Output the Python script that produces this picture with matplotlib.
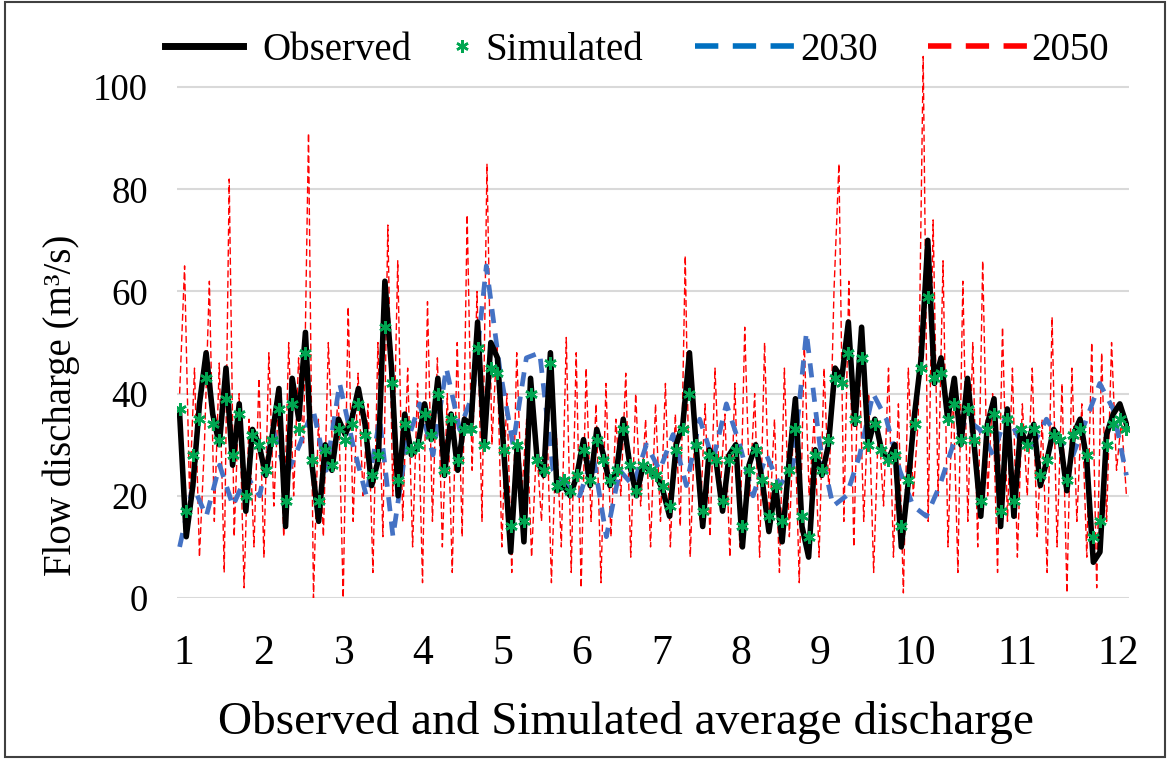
import numpy as np
import matplotlib
matplotlib.use("Agg")
import matplotlib.pyplot as plt
from matplotlib.lines import Line2D
from matplotlib.patches import Rectangle

plt.rcParams['font.family'] = ['Liberation Serif', 'DejaVu Serif']

# Daily flow discharge (m3/s), sampled ~12 times per month
observed = [36, 12, 22, 38, 48, 36, 30, 45, 26, 38, 17, 33,
            30, 24, 32, 41, 14, 43, 35, 52, 26, 15, 30, 25,
            35, 32, 35, 41, 34, 22, 27, 62, 45, 20, 36, 28,
            30, 38, 31, 43, 24, 36, 25, 35, 34, 54, 30, 50,
            47, 28, 9, 30, 11, 43, 27, 24, 48, 21, 22, 20,
            24, 31, 22, 33, 28, 22, 25, 35, 26, 20, 26, 25,
            24, 21, 16, 30, 34, 48, 30, 14, 29, 27, 17, 28,
            30, 10, 26, 30, 23, 13, 22, 11, 26, 39, 14, 8,
            29, 24, 30, 45, 43, 54, 34, 53, 30, 35, 29, 27,
            30, 10, 22, 36, 47, 70, 42, 47, 35, 43, 30, 43,
            30, 16, 34, 39, 14, 37, 16, 33, 30, 34, 22, 27,
            33, 31, 21, 32, 35, 27, 7, 9, 32, 36, 38, 34]

simulated = [37, 17, 28, 35, 43, 34, 31, 39, 28, 36, 20, 32,
             30, 25, 31, 37, 19, 38, 33, 48, 27, 19, 29, 26,
             33, 31, 34, 38, 32, 24, 28, 53, 42, 23, 34, 29,
             30, 36, 32, 40, 25, 35, 27, 33, 33, 49, 30, 45,
             44, 29, 14, 30, 15, 40, 27, 25, 46, 22, 23, 21,
             24, 29, 23, 31, 27, 23, 25, 33, 26, 21, 26, 25,
             24, 22, 18, 29, 33, 40, 30, 17, 28, 27, 19, 27,
             29, 14, 25, 29, 23, 16, 22, 15, 25, 33, 16, 12,
             28, 25, 31, 43, 42, 48, 35, 47, 30, 34, 29, 27,
             28, 14, 23, 34, 45, 59, 43, 44, 35, 38, 31, 37,
             31, 19, 33, 36, 17, 35, 19, 33, 30, 33, 24, 27,
             32, 31, 23, 32, 33, 28, 12, 15, 30, 34, 35, 33]

# Projected discharge, ~6 samples per month
proj_2030 = [10, 22, 16, 26, 18, 24,
             20, 33, 24, 30, 37, 25,
             42, 30, 20, 35, 12, 30,
             38, 28, 45, 33, 40, 65,
             45, 30, 47, 48, 25, 22,
             20, 28, 12, 25, 22, 30,
             25, 32, 22, 35, 27, 38,
             30, 20, 28, 22, 26, 52,
             30, 18, 20, 28, 40, 35,
             25, 18, 16, 22, 30, 35,
             33, 28, 36, 31, 30, 35,
             31, 28, 35, 42, 37, 24]

# Projected discharge, ~16 samples per month
proj_2050 = [40, 65, 20, 45, 8, 30, 62, 15, 46, 5, 82, 12, 40, 2, 35, 10,
             43, 8, 48, 18, 40, 12, 50, 20, 47, 30, 91, 0, 35, 12, 50, 25,
             40, 0, 57, 15, 44, 20, 38, 5, 50, 12, 73, 20, 66, 15, 45, 10,
             42, 3, 58, 15, 47, 10, 40, 5, 50, 12, 75, 25, 60, 15, 85, 30,
             50, 10, 40, 5, 48, 20, 35, 8, 30, 15, 38, 3, 32, 10, 51, 5,
             48, 2, 45, 15, 38, 3, 42, 12, 35, 20, 44, 8, 40, 18, 35, 10,
             38, 15, 42, 10, 36, 14, 67, 8, 35, 15, 38, 12, 45, 20, 36, 8,
             42, 10, 53, 20, 40, 8, 50, 15, 35, 5, 45, 12, 38, 3, 50, 20,
             35, 8, 45, 20, 60, 85, 15, 62, 10, 50, 15, 40, 5, 35, 18, 45,
             8, 38, 1, 45, 20, 35, 106, 15, 74, 20, 66, 10, 42, 5, 62, 15,
             50, 10, 66, 20, 40, 5, 53, 15, 45, 8, 38, 20, 45, 12, 35, 5,
             55, 10, 42, 1, 45, 15, 38, 8, 50, 2, 48, 15, 50, 25, 35, 20]

month_labels = ['1', '2', '3', '4', '5', '6', '7', '8', '9', '10', '11', '12']
label_days = [2.7, 33, 64, 94.3, 125, 155, 186, 216, 246.5, 283, 322, 361]

day_obs = np.linspace(1, 364, len(observed))
day_30 = np.linspace(1, 364, len(proj_2030))
day_50 = np.linspace(1, 364, len(proj_2050))

BLUE = '#4472C4'
GREEN = '#00A651'
RED = '#FF0000'

fig = plt.figure(figsize=(11.7, 7.59), dpi=100)
ax = fig.add_axes([0.1513, 0.2121, 0.8137, 0.7405])

ax.plot(day_50, proj_2050, color=RED, lw=1.0, ls=(0, (5, 2.5)), zorder=2)
ax.plot(day_30, proj_2030, color=BLUE, lw=3.4, ls=(0, (3, 2.2)), zorder=3)
ax.plot(day_obs, observed, color='black', lw=4.0, zorder=4)
ax.plot(day_obs, simulated, ls='none', marker=(6, 2, 0), ms=9, mew=1.8,
        color=GREEN, zorder=5)

ax.set_xlim(0, 365)
ax.set_ylim(0, 110)
ax.set_yticks([0, 20, 40, 60, 80, 100])
ax.set_xticks(label_days)
ax.set_xticklabels(month_labels)
ax.grid(axis='y', color='#D9D9D9', lw=1.5)
ax.set_axisbelow(True)
for s in ax.spines.values():
    s.set_visible(False)
ax.tick_params(axis='both', length=0)
ax.tick_params(axis='x', labelsize=30, pad=26)
ax.tick_params(axis='y', labelsize=26.5, pad=21)

ax.set_xlabel('Observed and Simulated average discharge', fontsize=34)
ax.xaxis.set_label_coords(0.4716, -0.183)
ax.set_ylabel('Flow discharge (m³/s)', fontsize=28)
ax.yaxis.set_label_coords(-0.102, 0.343)

# legend entries laid out one by one along the top
entries = [
    (Line2D([], [], color='black', lw=5), 'Observed', 165, 2.0, 0.5),
    (Line2D([], [], ls='none', marker=(6, 2, 0), ms=9, mew=1.8, color=GREEN),
     'Simulated', 450, 0.6, 0.3),
    (Line2D([], [], color='#0070C0', lw=4, ls=(0, (4.2, 2.6))), '2030', 695, 2.6, 0.1),
    (Line2D([], [], color=RED, lw=4, ls=(0, (4.2, 2.6))), '2050', 928, 2.55, 0.1),
]
for handle, text, x_px, hlen, tpad in entries:
    fig.legend([handle], [text], loc='center left',
               bbox_to_anchor=(x_px / 1170, 1 - 50 / 759),
               frameon=False, fontsize=28, handlelength=hlen,
               handletextpad=tpad, borderpad=0, borderaxespad=0)

fig.patches.append(Rectangle((0.004, 0.002), 0.992, 0.995, transform=fig.transFigure,
                             fill=False, edgecolor='#404040', lw=1.5))

fig.savefig('out.png', dpi=100)
